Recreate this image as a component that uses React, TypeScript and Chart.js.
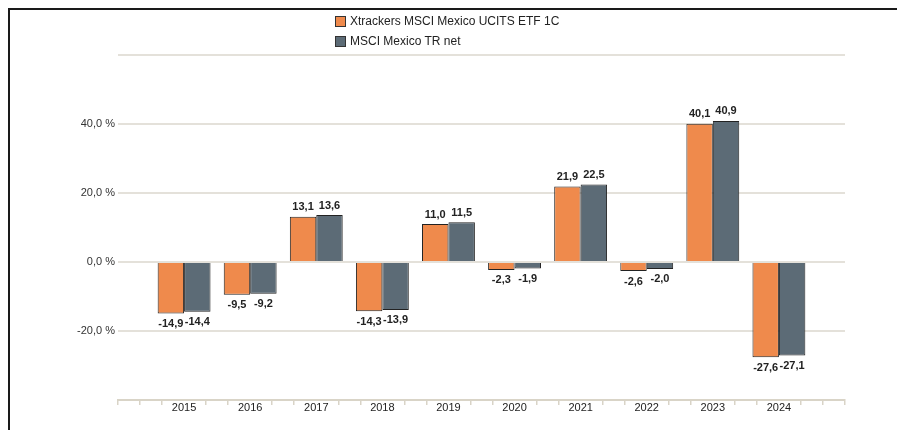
import React, { useEffect, useRef } from 'react';
import { Chart, registerables } from 'chart.js';

Chart.register(...registerables);

const years = ['2015', '2016', '2017', '2018', '2019', '2020', '2021', '2022', '2023', '2024'];
const etfReturns = [-14.9, -9.5, 13.1, -14.3, 11.0, -2.3, 21.9, -2.6, 40.1, -27.6];
const indexReturns = [-14.4, -9.2, 13.6, -13.9, 11.5, -1.9, 22.5, -2.0, 40.9, -27.1];
const seriesNames = ['Xtrackers MSCI Mexico UCITS ETF 1C', 'MSCI Mexico TR net'];
const seriesColors = ['#ef8a4c', '#5c6b76'];
const yTickLabels = [-20, 0, 20, 40];

const categories = ['', ...years, ''];
const FONT = '"Liberation Sans", Arial, Helvetica, sans-serif';

const fmt = (v: number) => v.toFixed(1).replace('.', ',');

const valueLabels = {
  id: 'valueLabels',
  afterDatasetsDraw(chart: any) {
    const ctx = chart.ctx;
    ctx.save();
    ctx.font = `bold 11px ${FONT}`;
    ctx.fillStyle = '#222';
    ctx.textAlign = 'center';
    chart.data.datasets.forEach((ds: any, di: number) => {
      const meta = chart.getDatasetMeta(di);
      meta.data.forEach((el: any, i: number) => {
        const v = ds.data[i];
        if (v === null || v === undefined) return;
        if (v >= 0) {
          ctx.textBaseline = 'bottom';
          ctx.fillText(fmt(v), el.x, el.y - 4);
        } else {
          ctx.textBaseline = 'top';
          ctx.fillText(fmt(v), el.x, el.y + 5);
        }
      });
    });
    ctx.restore();
  },
};

export default function App() {
  const ref = useRef<HTMLCanvasElement>(null);

  useEffect(() => {
    document.documentElement.style.overflow = 'hidden';
    document.body.style.overflow = 'hidden';
    if (!ref.current) return;
    Chart.defaults.font.family = FONT;
    const chart = new Chart(ref.current, {
      type: 'bar',
      data: {
        labels: categories,
        datasets: [
          {
            label: seriesNames[0],
            data: [null, ...etfReturns, null],
            backgroundColor: seriesColors[0],
            borderColor: '#222',
            borderWidth: 1,
            categoryPercentage: 0.8,
            barPercentage: 1,
          },
          {
            label: seriesNames[1],
            data: [null, ...indexReturns, null],
            backgroundColor: seriesColors[1],
            borderColor: '#222',
            borderWidth: 1,
            categoryPercentage: 0.8,
            barPercentage: 1,
          },
        ],
      } as any,
      options: {
        animation: false,
        responsive: false,
        layout: { padding: { top: 45, right: 60, left: 0, bottom: 0 } },
        plugins: { legend: { display: false }, tooltip: { enabled: false } },
        scales: {
          x: { type: 'category', display: false, offset: false, grid: { offset: false } },
          x2: {
            type: 'linear',
            position: 'bottom',
            axis: 'x',
            min: 0,
            max: 33,
            offset: false,
            ticks: {
              stepSize: 1,
              autoSkip: false,
              maxRotation: 0,
              minRotation: 0,
              padding: -4,
              color: '#222',
              font: { size: 11, family: FONT },
              callback: (v: any) => {
                const n = Number(v);
                if (n % 3 === 0 && n >= 3 && n <= 30) return years[n / 3 - 1];
                return '';
              },
            },
            grid: {
              offset: false,
              drawOnChartArea: false,
              drawTicks: true,
              tickLength: 5,
              lineWidth: 1.5,
              tickColor: (c: any) => {
                const n = c.tick ? Number(c.tick.value) : -1;
                return n % 3 === 0 && n >= 3 && n <= 30 ? 'rgba(0,0,0,0)' : '#d9d4c7';
              },
            },
            border: { display: true, color: '#d9d4c7', width: 2 },
            afterFit: (s: any) => {
              s.height = 30;
            },
          },
          y: {
            min: -40,
            max: 60,
            ticks: {
              stepSize: 20,
              padding: 3,
              color: '#333',
              font: { size: 11, family: FONT },
              callback: (v: any) => (yTickLabels.includes(Number(v)) ? `${fmt(Number(v))} %` : ''),
            },
            grid: {
              drawTicks: false,
              lineWidth: 2,
              color: (c: any) => (c.tick && c.tick.value === -40 ? 'rgba(0,0,0,0)' : '#e4e1da'),
            },
            border: { display: false },
            afterFit: (s: any) => {
              s.width = 108;
            },
          },
        },
      } as any,
      plugins: [valueLabels],
    });
    return () => chart.destroy();
  }, []);

  const legendRow = (i: number, top: number) => (
    <div
      style={{
        position: 'absolute',
        left: 325,
        top,
        display: 'flex',
        alignItems: 'center',
        fontFamily: FONT,
        fontSize: 12,
        color: '#222',
        whiteSpace: 'nowrap',
        lineHeight: '14px',
      }}
    >
      <span
        style={{
          display: 'inline-block',
          width: 9,
          height: 9,
          background: seriesColors[i],
          border: '1px solid #333',
          marginRight: 4,
        }}
      />
      <span>{seriesNames[i]}</span>
    </div>
  );

  return (
    <div
      style={{
        position: 'relative',
        width: 895,
        height: 420,
        overflow: 'hidden',
        borderTop: '2px solid #1a1a1a',
        borderLeft: '2px solid #1a1a1a',
        background: '#fff',
      }}
    >
      <canvas ref={ref} width={895} height={420} style={{ display: 'block', width: 895, height: 420 }} />
      {legendRow(0, 4)}
      {legendRow(1, 24)}
    </div>
  );
}
